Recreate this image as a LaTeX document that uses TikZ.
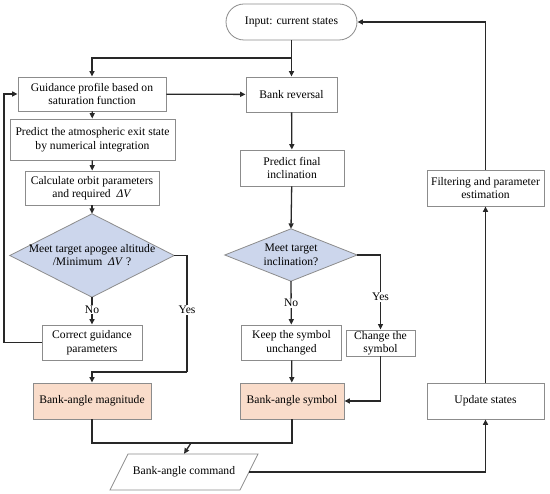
\documentclass[tikz,border=0pt]{standalone}
\usepackage{fontspec}
\setmainfont{Liberation Serif}
\usetikzlibrary{arrows.meta,calc}
\definecolor{dfill}{RGB}{204,214,236}
\definecolor{pfill}{RGB}{249,220,202}
\definecolor{bline}{RGB}{140,140,140}
\definecolor{cline}{RGB}{40,40,40}
\begin{document}
\begin{tikzpicture}[x=1pt,y=-1pt,
  txt/.style={align=center,inner sep=1pt,font=\fontsize{11.6}{13.5}\selectfont},
  box/.style={txt,draw=bline,line width=0.8pt,fill=white},
  pbox/.style={box,fill=pfill},
  dia/.style={txt,inner sep=0pt},
  dshape/.style={draw=bline,line width=0.8pt,fill=dfill},
  arr/.style={draw=cline,line width=1.3pt,-{Triangle[length=5.5pt,width=5pt]}},
  ln/.style={draw=cline,line width=1.3pt},
  lab/.style={txt,fill=white,inner sep=1pt}]
\useasboundingbox (0,0) rectangle (550,494);
% nodes
\node[box,rounded corners=18pt,minimum width=131pt,minimum height=36pt] (in) at (291.5,22) {Input: current states};
\node[box,minimum width=148pt,minimum height=34pt] (gp) at (92,94) {Guidance profile based on\\saturation function};
\node[box,minimum width=91pt,minimum height=35pt] (br) at (291.5,94.5) {Bank reversal};
\node[box,minimum width=165pt,minimum height=41pt] (pa) at (92.5,139.5) {Predict the atmospheric exit state\\by numerical integration};
\node[box,minimum width=134pt,minimum height=34pt] (co) at (92,188) {Calculate orbit parameters\\and required \ \textit{ΔV}};
\node[dia,minimum width=164pt,minimum height=83pt] (d1) at (92,255.5) {};
\draw[dshape] (d1.north) -- (d1.east) -- (d1.south) -- (d1.west) -- cycle;
\node[txt] (d1t) at (92,255) {Meet target apogee altitude\\/Minimum \ \textit{ΔV} ?};
\node[box,minimum width=100pt,minimum height=35pt] (cg) at (92,342.5) {Correct guidance\\parameters};
\node[pbox,minimum width=118pt,minimum height=36pt] (bm) at (92,401) {Bank-angle magnitude};
\node[box,minimum width=104pt,minimum height=36pt] (pf) at (292,168) {Predict final\\inclination};
\node[dia,minimum width=132pt,minimum height=52pt] (d2) at (291,255) {};
\draw[dshape] (d2.north) -- (d2.east) -- (d2.south) -- (d2.west) -- cycle;
\node[txt] (d2t) at (291,255) {Meet target\\inclination?};
\node[box,minimum width=100pt,minimum height=35pt] (ks) at (291.5,342.5) {Keep the symbol\\unchanged};
\node[box,minimum width=69pt,minimum height=24pt] (cs) at (380.5,343) {Change the\\symbol};
\node[pbox,minimum width=104pt,minimum height=36pt] (bs) at (292,401) {Bank-angle symbol};
\node[box,minimum width=117pt,minimum height=36pt] (fe) at (485.5,188) {Filtering and parameter\\estimation};
\node[box,minimum width=117pt,minimum height=36pt] (us) at (485.5,401) {Update states};
% parallelogram command
\draw[bline,line width=0.8pt,fill=white] (128,454) -- (258,454) -- (240,490) -- (110,490) -- cycle;
\node[txt,inner sep=0pt,minimum width=130pt,minimum height=36pt] (cmd) at (184,472) {Bank-angle command};
% junction coordinates
\coordinate (j1) at (291.5,58);
\coordinate (jl) at (4,342.5);
\coordinate (jy) at (187,372);
\coordinate (jm) at (191,443);
% connectors
\draw[arr] (in) -- (br);
\draw[arr] (j1) -| (gp.north);
\draw[arr] (gp) -- (br);
\draw[arr] (gp) -- (pa);
\draw[arr] (pa) -- (co);
\draw[arr] (co) -- (d1.north);
\draw[arr] (d1.south) -- node[lab,pos=0.45]{No} (cg);
\draw[ln] (d1.east) -| (jy);
\node[lab] (y1) at (187,310) {Yes};
\draw[arr] (jy) -| (bm.north);
\draw[arr] (cg.west) -- (jl) |- (gp.west);
\draw[ln] (bm.south) |- (jm);
\draw[ln] (bs.south) |- (jm);
\draw[arr] (jm) -- (cmd.north);
\draw[arr] (br) -- (pf);
\draw[arr] (pf) -- (d2.north);
\draw[arr] (d2.south) -- node[lab,pos=0.5]{No} (ks);
\draw[arr] (d2.east) -| node[lab,pos=0.78]{Yes} (cs.north);
\draw[arr] (ks) -- (bs);
\draw[arr] (cs.south) |- (bs.east);
\draw[arr] (cmd.east) -| (us.south);
\draw[arr] (us) -- (fe);
\draw[arr] (fe.north) |- (in.east);
\end{tikzpicture}
\end{document}
